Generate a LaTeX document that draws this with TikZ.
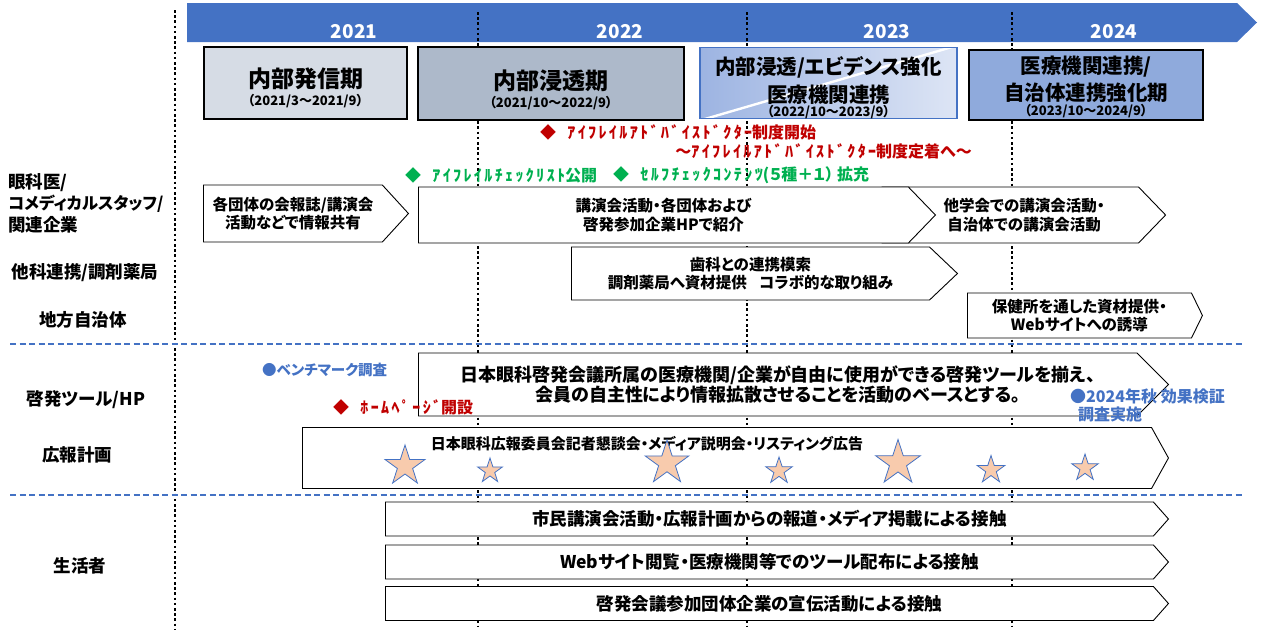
\documentclass[tikz,border=0pt]{standalone}
\usepackage{fontspec}
\setmainfont{Noto Sans CJK JP}[RawFeature={+palt}]
\usetikzlibrary{shapes,shapes.symbols,shapes.geometric,positioning}
\definecolor{barblue}{HTML}{4472C4}
\definecolor{phaseA}{HTML}{D6DCE5}
\definecolor{phaseB}{HTML}{ADB9CA}
\definecolor{phaseC}{HTML}{9DB4E2}
\definecolor{phaseCl}{HTML}{DDE5F5}
\definecolor{phaseD}{HTML}{8FAADC}
\definecolor{evred}{HTML}{C00000}
\definecolor{evgreen}{HTML}{00B050}
\definecolor{starfill}{HTML}{F8CBAD}
\newcommand{\fsz}[2]{\bfseries\fontsize{#1}{#2}\selectfont}
\newcommand{\hank}[1]{{\addfontfeature{LetterSpace=15}#1}}

\begin{document}
\begin{tikzpicture}[x=1pt,y=-1pt]
\tikzstyle{phase} = [draw, line width=1.2pt, inner sep=0pt, align=center]
\tikzstyle{chev} = [signal, signal to=east, draw, fill=white, line width=0.9pt, inner sep=0pt, align=center, anchor=west]
\tikzstyle{vdots} = [line width=2.6pt, dash pattern=on 2.6pt off 2.6pt]
\tikzstyle{hdash} = [barblue, line width=1.6pt, dash pattern=on 6pt off 3.5pt]
\tikzstyle{rowlab} = [font=\fsz{17.5}{21.5}, inner sep=0pt]
\tikzstyle{event} = [font=\fsz{16}{16}, inner sep=0pt]
\tikzstyle{stardeco} = [star, star points=5, star point ratio=2.618, fill=starfill, draw=barblue, line width=0.8pt, inner sep=0pt]
\useasboundingbox (0,0) rectangle (1262,630);

\fill[barblue] (187,3) -- (1237,3) -- (1257,22.5) -- (1237,42) -- (187,42) -- cycle;
\foreach \yr/\xx in {2021/354,2022/620,2023/887,2024/1114}
  \node[text=white, font=\fsz{19}{19}] (y\yr) at (\xx,32) {\yr};

\draw[vdots] (175,10) -- (175,630);
\foreach \xx in {478,747,1012}
  \draw[vdots] (\xx,12) -- (\xx,626);
\draw[hdash] (10,344) -- (1242,344);
\draw[hdash] (10,495) -- (1242,495);

\node[phase, fill=phaseA, minimum width=203, minimum height=72, font=\fsz{23}{27}] at (305.5,83) (hassin){\rule{0pt}{29.5pt}内部発信期\\[-8.7pt]\fsz{13}{14}（2021/3～2021/9）};
\node[phase, fill=phaseB, minimum width=266, minimum height=73, font=\fsz{23}{27}] at (551,83.5) (shinto){\rule{0pt}{32pt}内部浸透期\\[-9.2pt]\fsz{13}{14}（2021/10～2022/9）};
\node[phase, draw=barblue, left color=phaseC, right color=phaseCl, minimum width=257, minimum height=70, font=\fsz{20.5}{28},
  path picture={\draw[white, line width=2.4pt] ([yshift=-2pt]path picture bounding box.south west) -- ([yshift=2pt]path picture bounding box.north east);}] at (828.5,83) (evid){\rule{0pt}{26.8pt}内部浸透/エビデンス強化\\医療機関連携\\[-14.3pt]\fsz{13}{14}（2022/10～2023/9）};
\node[phase, fill=phaseD, minimum width=234, minimum height=70, font=\fsz{20.5}{26.5}] at (1086,85) (renkei){\rule{0pt}{21.3pt}医療機関連携/\\自治体連携強化期\\[-11.8pt]\fsz{13}{14}（2023/10～2024/9）};

\node[event, anchor=west, text=evred] at (540,132) (adv1){◆\hspace{0.7em}\hank{ｱｲﾌﾚｲﾙｱﾄﾞﾊﾞｲｽﾄﾞｸﾀｰ}制度開始};
\node[event, anchor=east, text=evred] at (972,151) (adv2){～\hank{ｱｲﾌﾚｲﾙｱﾄﾞﾊﾞｲｽﾄﾞｸﾀｰ}制度定着へ～};
\node[event, anchor=west, text=evgreen] at (405,175) (check){◆\hspace{0.7em}\hank{ｱｲﾌﾚｲﾙﾁｪｯｸﾘｽﾄ}公開};
\node[event, anchor=west, text=evgreen] at (613,175) (selfc){◆\hspace{0.7em}\hank{ｾﾙﾌﾁｪｯｸｺﾝﾃﾝﾂ}(５種＋１） 拡充};

\node[rowlab, anchor=west, align=left] at (8,203) (ganka){眼科医/\\\fsz{16.5}{21.5}コメディカルスタッフ/\\関連企業};
\node[rowlab] at (85,273) (takaka){他科連携/調剤薬局};
\node[rowlab] at (83,320) (jichi){地方自治体};
\node[rowlab] at (86,400) (tool){啓発ツール/HP};
\node[rowlab] at (77,455) (koho){広報計画};
\node[rowlab] at (80,566) (seikatsu){生活者};

\node[chev, signal pointer angle=95, minimum width=205, minimum height=57, font=\fsz{15.5}{18.5}] at (203,213.5) (kaiho){各団体の会報誌/講演会\\活動などで情報共有};
\node[chev, signal from=west, signal pointer angle=92, minimum width=283, minimum height=56, font=\fsz{15.5}{18.5}] at (909,215) (tagakkai){他学会での講演会活動・\\自治体での講演会活動};
\node[chev, signal pointer angle=92, minimum width=517, minimum height=56, font=\fsz{15.5}{18.5}] at (418,215) (koen){講演会活動・各団体および\\啓発参加企業HPで紹介};
\node[chev, signal pointer angle=87, minimum width=386, minimum height=53, font=\fsz{15.5}{18.5}] at (571,273.5) (shika){歯科との連携模索\\調剤薬局へ資材提供\hspace{0.8em}コラボ的な取り組み};
\node[chev, signal pointer angle=128, minimum width=235, minimum height=45, font=\fsz{15.5}{18.5}] at (967,315.5) (hokenjo){保健所を通した資材提供・\\Webサイトへの誘導};
\node[chev, signal pointer angle=90, minimum width=750, minimum height=63, font=\fsz{18}{20}] at (418,384.5) (tools){日本眼科啓発会議所属の医療機関/企業が自由に使用ができる啓発ツールを揃え、\\会員の自主性により情報拡散させることを活動のベースとする。};
\node[chev, signal pointer angle=122, minimum width=866, minimum height=61] at (302,458) (media){};
\node[font=\fsz{15}{17}, inner sep=0pt] at (647,444) (mediatxt){日本眼科広報委員会記者懇談会・メディア説明会・リスティング広告};

\foreach \sx/\sy/\sr [count=\i] in {405/466/21,490/471/13,667/463/23,779/471/14,898/463/23.5,991/470/14.5,1085/468/14}
  \node[stardeco, minimum size=2*\sr] at (\sx,\sy) (st\i){};

\node[chev, signal pointer angle=97, minimum width=783, minimum height=34, font=\fsz{17.5}{19}] at (385,519) (shimin){市民講演会活動・広報計画からの報道・メディア掲載による接触};
\node[chev, signal pointer angle=97, minimum width=783, minimum height=34, font=\fsz{17.5}{19}] at (385,562) (web){Webサイト閲覧・医療機関等でのツール配布による接触};
\node[chev, signal pointer angle=97, minimum width=783, minimum height=34, font=\fsz{17.5}{19}] at (385,603.5) (senden){啓発会議参加団体企業の宣伝活動による接触};

\node[anchor=west, text=barblue, font=\fsz{14.5}{17}, inner sep=0pt] at (262,370) (bench){●ベンチマーク調査};
\node[event, anchor=west, text=evred] at (333,407) (hp){◆\hspace{0.7em}\hank{ﾎｰﾑﾍﾟｰｼﾞ}開設};
\node[anchor=north west, align=left, text=barblue, font=\fsz{16}{18}, inner sep=0pt] at (1070,389) (kensho){●2024年秋 効果検証\\\hspace*{8pt}調査実施};
\end{tikzpicture}
\end{document}
